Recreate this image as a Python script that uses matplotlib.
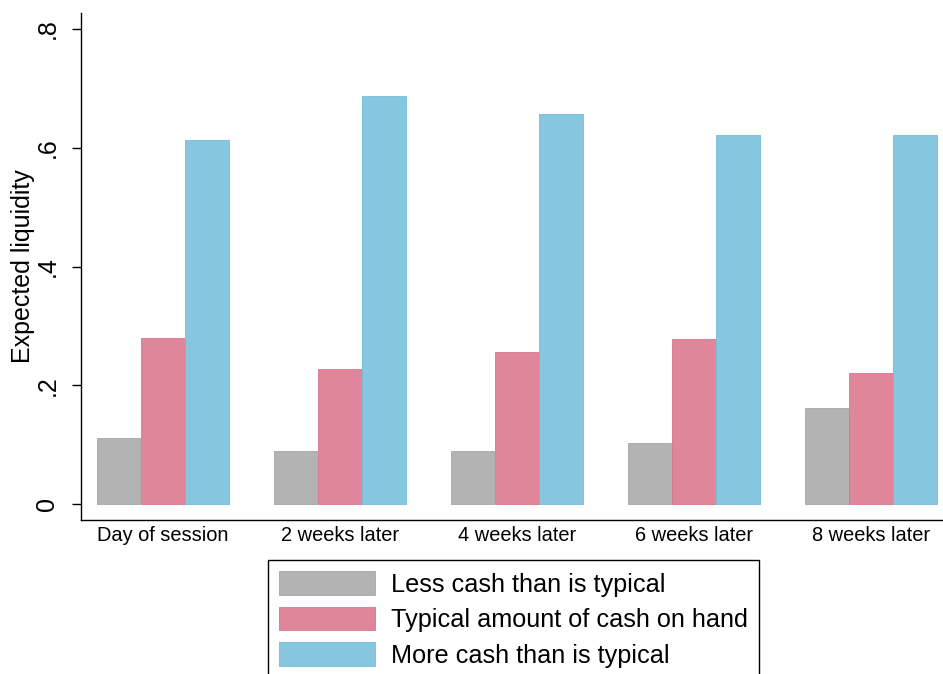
import matplotlib

matplotlib.use("Agg")
import matplotlib.pyplot as plt
import numpy as np

plt.rcParams["font.family"] = ["Liberation Sans", "DejaVu Sans"]

# values
PERIODS = ["Day of session", "2 weeks later", "4 weeks later", "6 weeks later", "8 weeks later"]
LESS_CASH = [0.111, 0.089, 0.089, 0.103, 0.161]
TYPICAL_CASH = [0.279, 0.227, 0.256, 0.278, 0.220]
MORE_CASH = [0.613, 0.687, 0.657, 0.621, 0.621]

SERIES = [
    ("Less cash than is typical", LESS_CASH, "#b3b3b3", "#a6a6a6"),
    ("Typical amount of cash on hand", TYPICAL_CASH, "#e0869b", "#d77590"),
    ("More cash than is typical", MORE_CASH, "#87c6df", "#74bbda"),
]

W, H = 943, 674
fig = plt.figure(figsize=(W / 100, H / 100), dpi=100)
ax = fig.add_axes([81 / W, 1 - 520 / H, 1 - 81 / W, (520 - 13) / H])

x = np.arange(len(PERIODS))
bw = 0.25
for k, (label, vals, fc, ec) in enumerate(SERIES):
    ax.bar(x + (k - 1) * bw, vals, width=bw * 0.985, color=fc,
           edgecolor=ec, linewidth=0.6, label=label)

ax.set_xlim(-0.463, 4.407)
ax.set_ylim(-0.027, 0.827)
ax.set_xticks(x)
ax.set_xticklabels(PERIODS, fontsize=14.4)
ax.set_yticks([0, 0.2, 0.4, 0.6, 0.8])
ax.set_yticklabels(["0", ".2", ".4", ".6", ".8"], fontsize=18,
                   rotation=90, va="center")
ax.tick_params(axis="x", length=0, pad=4)
ax.tick_params(axis="y", length=6.5, width=1, pad=9, direction="out")
ax.set_ylabel("Expected liquidity", fontsize=18, labelpad=0)

for side in ("top", "right"):
    ax.spines[side].set_visible(False)
for side in ("left", "bottom"):
    ax.spines[side].set_linewidth(1.0)

# legend sits low in the figure; its bottom edge runs off the canvas
leg = fig.legend(loc="upper left", bbox_to_anchor=(268 / W, 1 - 560 / H),
                 borderaxespad=0, fontsize=18.2, handlelength=3.8,
                 handleheight=1.05, handletextpad=0.6, labelspacing=0.4,
                 borderpad=0.45, fancybox=False, edgecolor="black",
                 framealpha=1)
leg.get_frame().set_linewidth(1.0)

fig.savefig("out.png", dpi=100)
